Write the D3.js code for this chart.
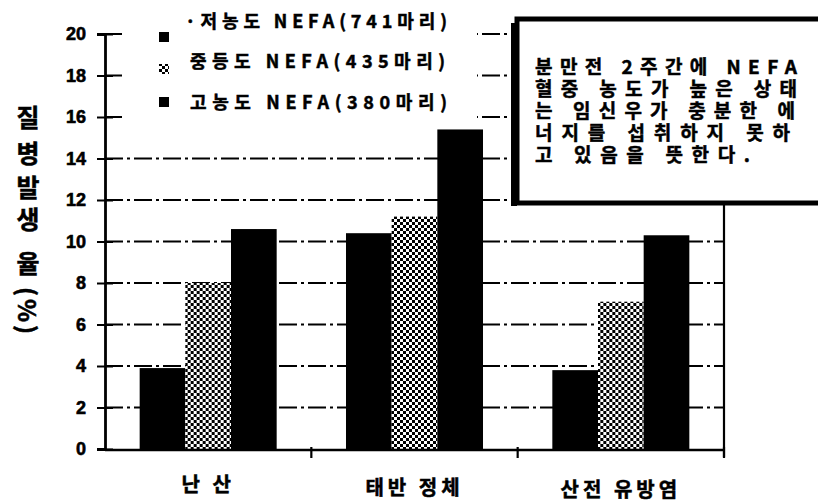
<!DOCTYPE html>
<html>
<head>
<meta charset="utf-8">
<script src="https://cdn.jsdelivr.net/npm/d3@7"></script>
<style>
  html, body { margin: 0; padding: 0; background: #fff; }
  svg { display: block; }
  text { font-family: "Noto Sans CJK KR", "Noto Sans", sans-serif; font-weight: 700; fill: #000; }
  .heavy { stroke: #000; stroke-width: 0.5px; }
</style>
</head>
<body>
<svg id="chart" width="818" height="504"></svg>
<script>
// Disease incidence by prepartum NEFA concentration group
const categories = ["난 산", "태반 정체", "산전 유방염"];
const seriesNames = ["저농도 NEFA(741마리)", "중등도 NEFA(435마리)", "고농도 NEFA(380마리)"];
const lowNefa = [3.9, 10.4, 3.8];
const midNefa = [8.0, 11.2, 7.1];
const highNefa = [10.6, 15.4, 10.3];
const yTicks = [0, 2, 4, 6, 8, 10, 12, 14, 16, 18, 20];
const yTitleChars = ["질", "병", "발", "생", "율"];
const noteLines = [
  "분만전 2주간에 NEFA",
  "혈중 농도가 높은 상태",
  "는 임신우가 충분한 에",
  "너지를 섭취하지 못하",
  "고 있음을 뜻한다."
];

const series = [lowNefa, midNefa, highNefa];
const svg = d3.select("#chart");

// halftone fill for the middle series
const defs = svg.append("defs");
const pat = defs.append("pattern")
  .attr("id", "halftone").attr("patternUnits", "userSpaceOnUse")
  .attr("width", 6).attr("height", 6);
pat.append("rect").attr("width", 6).attr("height", 6).attr("fill", "#fff");
pat.append("rect").attr("width", 3).attr("height", 3).attr("fill", "#000");
pat.append("rect").attr("x", 3).attr("y", 3).attr("width", 3).attr("height", 3).attr("fill", "#000");

const plot = { left: 105, right: 724, top: 34, bottom: 449 };

const x = d3.scaleBand().domain(categories)
  .range([plot.left, plot.right]).paddingInner(0.336).paddingOuter(0.168);
const xs = d3.scaleBand().domain(d3.range(series.length)).range([0, x.bandwidth()]);
const y = d3.scaleLinear().domain([0, 20]).range([plot.bottom, plot.top]);

// dashed gridlines
svg.append("g").selectAll("line").data(yTicks.filter(d => d > 0)).join("line")
  .attr("x1", plot.left).attr("x2", plot.right)
  .attr("y1", d => y(d)).attr("y2", d => y(d))
  .attr("stroke", "#000").attr("stroke-width", 1.8)
  .attr("stroke-dasharray", "18,4,3,4");

// bars
const fills = ["#000", "url(#halftone)", "#000"];
const groups = svg.append("g").selectAll("g").data(categories).join("g")
  .attr("transform", d => `translate(${x(d)},0)`);
groups.selectAll("rect")
  .data((c, i) => series.map((s, k) => ({ k, v: s[i] })))
  .join("rect")
  .attr("x", d => xs(d.k)).attr("width", xs.bandwidth())
  .attr("y", d => y(d.v)).attr("height", d => y(0) - y(d.v))
  .attr("fill", d => fills[d.k]);

// y axis
const yAxis = svg.append("g").attr("transform", `translate(${plot.left},0)`)
  .call(d3.axisLeft(y).tickValues(yTicks).tickSize(8).tickPadding(11).tickFormat(d3.format("d")));
yAxis.select(".domain").attr("stroke-width", 2.8);
yAxis.selectAll(".tick line").attr("x2", 8).attr("x1", -8).attr("stroke-width", 2);
yAxis.selectAll(".tick text").attr("font-size", 18)
  .style("font-family", "'Liberation Sans', Arial, sans-serif").style("font-weight", 700)
  .attr("stroke", "#000").attr("stroke-width", 0.6);

// x axis with boundary ticks
const xAxis = svg.append("g").attr("transform", `translate(0,${plot.bottom + 1})`);
xAxis.append("line").attr("x1", plot.left).attr("x2", plot.right)
  .attr("stroke", "#000").attr("stroke-width", 2.6);
const bounds = [1, 2, 3].map(i => plot.left + x.step() * i);
xAxis.selectAll("line.tk").data(bounds).join("line").attr("class", "tk")
  .attr("x1", d => d).attr("x2", d => d).attr("y1", -3).attr("y2", 8)
  .attr("stroke", "#000").attr("stroke-width", 2.2);
const catY = [492, 495, 497];
svg.append("g").selectAll("text").data(categories).join("text")
  .attr("class", "heavy")
  .attr("x", d => x(d) + x.bandwidth() / 2)
  .attr("y", (d, i) => catY[i])
  .attr("text-anchor", "middle").attr("font-size", 20)
  .attr("letter-spacing", 4)
  .text(d => d);

// right frame
svg.append("line").attr("x1", plot.right).attr("x2", plot.right)
  .attr("y1", 200).attr("y2", plot.bottom + 8)
  .attr("stroke", "#000").attr("stroke-width", 2.2);

// y title: stacked characters, then rotated (%)
const titleY = [116, 152, 186, 218, 262];
svg.append("g").selectAll("text").data(yTitleChars).join("text")
  .attr("class", "heavy")
  .attr("x", 28).attr("y", (d, i) => titleY[i])
  .attr("text-anchor", "middle").attr("dominant-baseline", "central")
  .attr("font-size", 25).text(d => d);
svg.append("text")
  .attr("class", "heavy")
  .attr("transform", "translate(28,312) rotate(90)")
  .attr("text-anchor", "middle").attr("dominant-baseline", "central")
  .attr("font-size", 24).attr("letter-spacing", 3).text("(%)");

// legend panel
const legend = svg.append("g");
legend.append("rect").attr("x", 122).attr("y", 0).attr("width", 355).attr("height", 125).attr("fill", "#fff");
const legSwatchY = [32, 64, 97];
const legTextY = [28, 68, 109];
const legTextX = [185, 190, 190];
const legTextLen = [262, 255, 257];
legend.selectAll("rect.sw").data(seriesNames).join("rect").attr("class", "sw")
  .attr("x", 159).attr("y", (d, i) => legSwatchY[i]).attr("width", 10).attr("height", 10)
  .attr("fill", (d, i) => fills[i]);
legend.selectAll("text").data(seriesNames).join("text")
  .attr("class", "heavy")
  .attr("x", (d, i) => legTextX[i]).attr("y", (d, i) => legTextY[i])
  .attr("font-size", 18)
  .attr("textLength", (d, i) => legTextLen[i]).attr("lengthAdjust", "spacing")
  .text((d, i) => (i === 0 ? "·" : "") + d);

// note box
const note = svg.append("g");
note.append("rect").attr("x", 517).attr("y", 19).attr("width", 320).attr("height", 184)
  .attr("fill", "#fff").attr("stroke", "#000").attr("stroke-width", 5);
note.append("rect").attr("x", 511).attr("y", 23).attr("width", 6).attr("height", 183).attr("fill", "#000");
const noteY = [74, 96, 118, 140, 162];
const noteLen = [262, 262, 260, 255, 215];
note.selectAll("text").data(noteLines).join("text")
  .attr("class", "heavy")
  .attr("x", 535).attr("y", (d, i) => noteY[i])
  .attr("font-size", 19)
  .attr("textLength", (d, i) => noteLen[i]).attr("lengthAdjust", "spacing")
  .text(d => d);
</script>
</body>
</html>
